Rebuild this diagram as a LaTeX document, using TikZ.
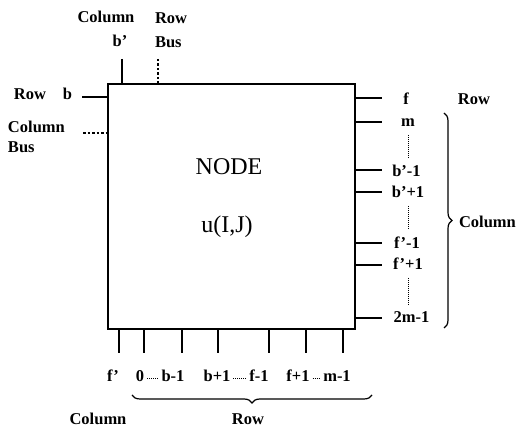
\documentclass[tikz,border=0pt]{standalone}
\usepackage{fontspec}
\setmainfont{Liberation Serif}
\usetikzlibrary{decorations.pathreplacing}

\begin{document}
\begin{tikzpicture}[x=1pt,y=1pt,outer sep=0pt,
    lab/.style={font=\fontsize{16.5}{18}\selectfont\bfseries,inner sep=0pt,anchor=base},
    big/.style={font=\fontsize{24}{28}\selectfont,inner sep=0pt,anchor=base},
    wire/.style={line width=1.3pt},
    bus/.style={wire,dash pattern=on 2.5pt off 2pt},
    gap/.style={line width=0.9pt,dash pattern=on 0.8pt off 1.2pt,shorten <=8pt,shorten >=8pt},
    hgap/.style={line width=0.9pt,dash pattern=on 0.8pt off 1.2pt,shorten <=3pt,shorten >=3pt},
    curly/.style={line width=1.2pt,decorate,decoration={brace,amplitude=8pt}}]
  \useasboundingbox (0,0) rectangle (519,430);
  \node[draw,line width=2pt,minimum width=247pt,minimum height=245pt] (n) at (231.5,223.5) {};
  \node[big] (nm) at (229,255) {NODE};
  \node[big] (u) at (227,197) {u(I,J)};
  % top side
  \node[lab] (tc) at (106,407) {Column};
  \node[lab] (tb) at (120,383) {b'};
  \node[lab,anchor=base west] (tr) at (155,406) {Row};
  \node[lab,anchor=base west] (tbus) at (155,382) {Bus};
  \coordinate (tb0) at (122,371);
  \coordinate (tbus0) at (158,371);
  \path (tb0) edge[wire] (tb0 |- n.north)
        (tbus0) edge[bus] (tbus0 |- n.north);
  % left side
  \node[lab] (lr) at (30,330) {Row};
  \node[lab] (lb) at (67.5,330) {b};
  \node[lab,anchor=base west] (lc) at (8,297) {Column};
  \node[lab,anchor=base west] (lbus) at (8,277) {Bus};
  \coordinate (lb0) at (82,333);
  \coordinate (lbus0) at (83,297);
  \path (lb0) edge[wire] (lb0 -| n.west)
        (lbus0) edge[bus] (lbus0 -| n.west);
  % right side
  \node[lab] (rf) at (406,325) {f};
  \node[lab] (rm) at (408,303) {m};
  \node[lab] (rb1) at (406.5,253) {b'-1};
  \node[lab] (rb2) at (408,232) {b'+1};
  \node[lab] (rf1) at (407,181) {f'-1};
  \node[lab] (rf2) at (408,160) {f'+1};
  \node[lab] (r2m) at (411.5,107) {2m-1};
  \node[lab] (rrow) at (474,325) {Row};
  \node[lab,anchor=base west] (rcol) at (459,202) {Column};
  \coordinate (rf0) at (382,332);
  \coordinate (rm0) at (382,308);
  \coordinate (rb10) at (382,260);
  \coordinate (rb20) at (382,238);
  \coordinate (rf10) at (382,187);
  \coordinate (rf20) at (382,165);
  \coordinate (r2m0) at (382,112);
  \path[wire] (n.east |- rf0) edge (rf0)
    (n.east |- rm0) edge (rm0)
    (n.east |- rb10) edge (rb10)
    (n.east |- rb20) edge (rb20)
    (n.east |- rf10) edge (rf10)
    (n.east |- rf20) edge (rf20)
    (n.east |- r2m0) edge (r2m0);
  \path (rm.south) edge[gap] (rm.south |- rb1.north)
        (rb2.south) edge[gap] (rb2.south |- rf1.north)
        (rf2.south) edge[gap] (rf2.south |- r2m.north);
  \coordinate (bt) at (444,317);
  \coordinate (bb) at (444,102);
  \draw[curly] (bt) -- (bb);
  % bottom side
  \node[lab] (bf) at (113,48) {f'};
  \node[lab] (b0) at (140,48) {0};
  \node[lab] (bb1) at (173,48) {b-1};
  \node[lab] (bb2) at (217,48) {b+1};
  \node[lab] (bf1) at (259,48) {f-1};
  \node[lab] (bf2) at (298,48) {f+1};
  \node[lab] (bm1) at (337,48) {m-1};
  \node[lab] (bcol) at (98,5) {Column};
  \node[lab] (brow) at (248,5) {Row};
  \coordinate (sf) at (119,77);
  \coordinate (s0) at (144,77);
  \coordinate (sb1) at (182,77);
  \coordinate (sb2) at (218,77);
  \coordinate (sf1) at (269,77);
  \coordinate (sf2) at (306,77);
  \coordinate (sm1) at (343,77);
  \path[wire] (sf) edge (sf |- n.south)
    (s0) edge (s0 |- n.south)
    (sb1) edge (sb1 |- n.south)
    (sb2) edge (sb2 |- n.south)
    (sf1) edge (sf1 |- n.south)
    (sf2) edge (sf2 |- n.south)
    (sm1) edge (sm1 |- n.south);
  \path ([yshift=4pt]b0.base east) edge[hgap] ([yshift=4pt]bb1.base west)
        ([yshift=4pt]bb2.base east) edge[hgap] ([yshift=4pt]bf1.base west)
        ([yshift=4pt]bf2.base east) edge[hgap] ([yshift=4pt]bm1.base west);
  \coordinate (rl) at (372,35);
  \coordinate (rr) at (132,35);
  \draw[curly] (rl) -- (rr);
\end{tikzpicture}
\end{document}
